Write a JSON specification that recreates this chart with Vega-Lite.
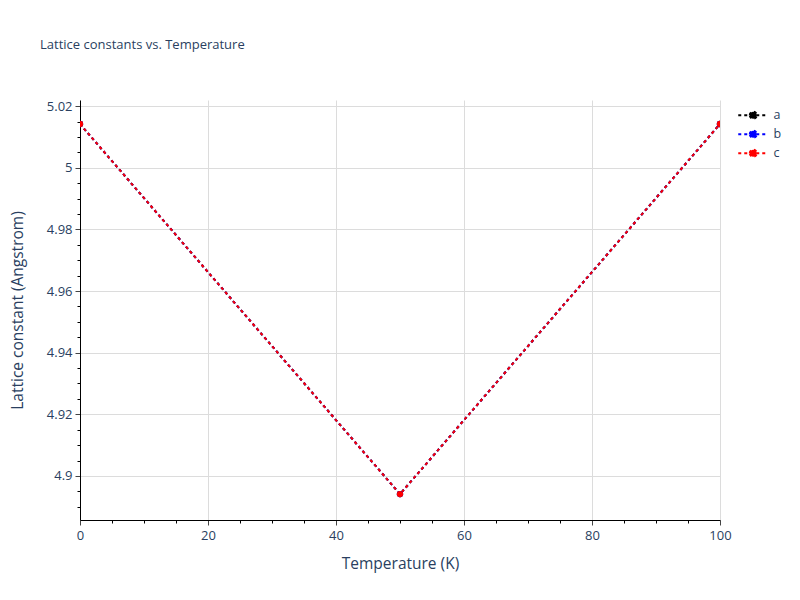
{
  "$schema": "https://vega.github.io/schema/vega-lite/v6.json",
  "width": 640,
  "height": 420,
  "autosize": "none",
  "padding": {"left": 80, "top": 100, "right": 80, "bottom": 80},
  "background": "white",
  "title": {
    "text": "Lattice constants vs. Temperature",
    "anchor": "start",
    "frame": "group",
    "dx": -40,
    "offset": 48,
    "font": "Open Sans",
    "fontSize": 13,
    "fontWeight": "normal",
    "color": "#2a3f5f"
  },
  "config": {
    "view": {"stroke": null},
    "font": "Open Sans",
    "axis": {
      "labelFont": "Open Sans",
      "labelFontSize": 13,
      "labelColor": "#2a3f5f",
      "labelFlush": false,
      "titleFont": "Open Sans",
      "titleFontSize": 15.5,
      "titleFontWeight": "normal",
      "titleColor": "#2a3f5f",
      "gridColor": "#dcdcdc",
      "gridWidth": 1,
      "domainColor": "#000000",
      "tickColor": "#444444"
    }
  },
  "data": {
    "values": [
      {"series": "a", "temperature": 0, "lattice": 5.0142},
      {"series": "a", "temperature": 50, "lattice": 4.8941},
      {"series": "a", "temperature": 100, "lattice": 5.0142},
      {"series": "b", "temperature": 0, "lattice": 5.0142},
      {"series": "b", "temperature": 50, "lattice": 4.8941},
      {"series": "b", "temperature": 100, "lattice": 5.0142},
      {"series": "c", "temperature": 0, "lattice": 5.0142},
      {"series": "c", "temperature": 50, "lattice": 4.8941},
      {"series": "c", "temperature": 100, "lattice": 5.0142}
    ]
  },
  "resolve": {"axis": {"x": "independent", "y": "independent"}},
  "layer": [
    {
      "mark": {"type": "line", "strokeWidth": 2, "strokeDash": [3, 3], "clip": true},
      "encoding": {
        "x": {
          "field": "temperature",
          "type": "quantitative",
          "scale": {"domain": [0, 100], "nice": false, "zero": false},
          "axis": {
            "orient": "bottom",
            "title": "Temperature (K)",
            "values": [0, 20, 40, 60, 80, 100],
            "format": "d",
            "tickSize": 5,
            "labelPadding": 4,
            "titleX": 320,
            "titleY": 43,
            "titleBaseline": "middle",
            "titleAlign": "center"
          }
        },
        "y": {
          "field": "lattice",
          "type": "quantitative",
          "scale": {"domain": [4.8857, 5.022], "nice": false, "zero": false},
          "axis": {
            "orient": "left",
            "title": "Lattice constant (Angstrom)",
            "values": [4.9, 4.92, 4.94, 4.96, 4.98, 5, 5.02],
            "format": "~g",
            "tickSize": 5,
            "labelPadding": 3,
            "titleX": -63,
            "titleY": 210,
            "titleAngle": -90,
            "titleBaseline": "middle",
            "titleAlign": "center"
          }
        },
        "color": {
          "field": "series",
          "type": "nominal",
          "scale": {"domain": ["a", "b", "c"], "range": ["#000000", "#0000ff", "#ff0000"]},
          "legend": {
            "title": null,
            "orient": "none",
            "legendX": 667,
            "legendY": 9,
            "symbolType": "M-3,0H3M-0.7,0A0.7,0.7 0 1,1 0.7,0A0.7,0.7 0 1,1 -0.7,0Z",
            "symbolSize": 100,
            "symbolStrokeWidth": 2,
            "symbolDash": [3, 3],
            "labelFont": "Open Sans",
            "labelFontSize": 12.5,
            "labelColor": "#2a3f5f",
            "labelOffset": 14,
            "rowPadding": 3,
            "encode": {
              "symbols": {"update": {"fill": {"scale": "color", "field": "value"}, "fillOpacity": {"value": 1}}}
            }
          }
        }
      }
    },
    {
      "mark": {"type": "point", "filled": true, "opacity": 1, "size": 40, "clip": true},
      "encoding": {
        "x": {
          "field": "temperature",
          "type": "quantitative",
          "axis": {
            "orient": "bottom",
            "title": null,
            "labels": false,
            "grid": false,
            "domain": false,
            "tickSize": 3,
            "tickColor": "#000000",
            "values": [5, 10, 15, 25, 30, 35, 45, 50, 55, 65, 70, 75, 85, 90, 95]
          }
        },
        "y": {
          "field": "lattice",
          "type": "quantitative",
          "axis": {
            "orient": "left",
            "title": null,
            "labels": false,
            "grid": false,
            "domain": false,
            "tickSize": 3,
            "tickColor": "#000000",
            "values": [4.89, 4.895, 4.905, 4.91, 4.915, 4.925, 4.93, 4.935, 4.945, 4.95, 4.955, 4.965, 4.97, 4.975, 4.985, 4.99, 4.995, 5.005, 5.01, 5.015]
          }
        },
        "color": {"field": "series", "type": "nominal", "legend": null}
      }
    }
  ]
}
